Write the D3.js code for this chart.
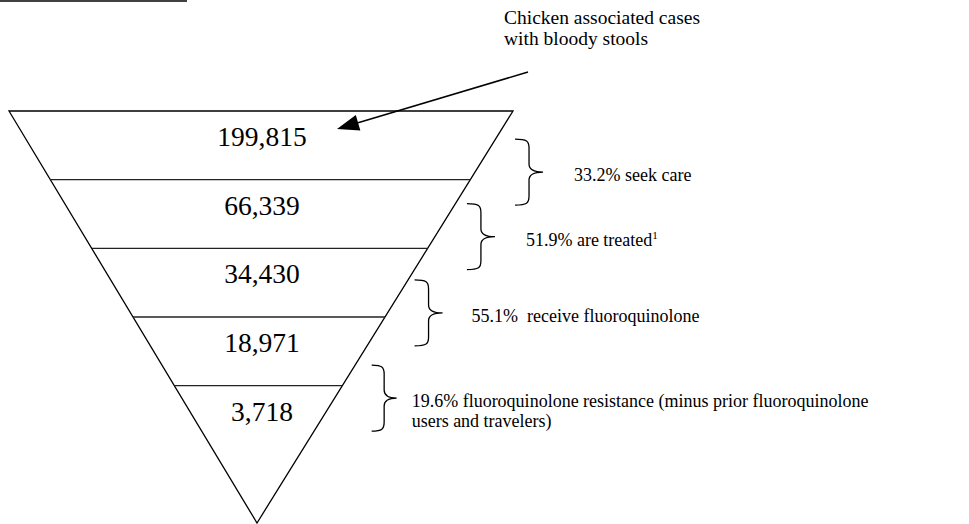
<!DOCTYPE html>
<html>
<head>
<meta charset="utf-8">
<script src="https://cdn.jsdelivr.net/npm/d3@7"></script>
<style>
  body { margin: 0; background: #fff; }
  svg { display: block; }
  text { font-family: 'Liberation Serif', 'Tinos', 'DejaVu Serif', serif; }
</style>
</head>
<body>
<svg id="chart"></svg>
<script>
// funnel values, top to bottom
const counts = [199815, 66339, 34430, 18971, 3718];
const stepRates = ["33.2%", "51.9%", "55.1%", "19.6%"];
const stepLabels = [
  ["seek care"],
  ["are treated"],
  [" receive fluoroquinolone"],
  ["fluoroquinolone resistance (minus prior fluoroquinolone", "users and travelers)"]
];
const stepNotes = ["", "1", "", ""];
const calloutLines = ["Chicken associated cases", "with bloody stools"];

// layout
const braceLevel = [0.89, 1.83, 2.94, 4.18];
const braceGap = [40, 32, 27, 37];
const labelGap = [31, 31, 29, 15];

document.addEventListener("DOMContentLoaded", function () {
  const width = 969, height = 524;
  const serif = "'Liberation Serif', 'DejaVu Serif', serif";
  const svg = d3.select("#chart").attr("width", width).attr("height", height)
    .attr("font-family", serif);

  const topY = 111, apexY = 523, apexX = 257;
  const level = d3.scaleLinear().domain([0, 6]).range([topY, apexY]);
  const leftEdge = d3.scaleLinear().domain([topY, apexY]).range([9, apexX]);
  const rightEdge = d3.scaleLinear().domain([topY, apexY]).range([513, apexX]);
  const fmt = d3.format(",");
  const cx = 262;

  // cut off underline of heading at the very top
  svg.append("line")
    .attr("x1", 0).attr("x2", 187).attr("y1", 1).attr("y2", 1)
    .attr("stroke", "#000").attr("stroke-width", 1.5);

  // triangle
  svg.append("path")
    .attr("d", d3.line()([[leftEdge(topY), topY], [rightEdge(topY), topY], [apexX, apexY]]) + "Z")
    .attr("fill", "none").attr("stroke", "#000").attr("stroke-width", 1.3);

  // band separators
  svg.selectAll(".sep")
    .data(d3.range(1, counts.length))
    .enter()
    .append("line")
    .attr("class", "sep")
    .attr("x1", (d) => leftEdge(level(d)))
    .attr("x2", (d) => rightEdge(level(d)))
    .attr("y1", (d) => level(d))
    .attr("y2", (d) => level(d))
    .attr("stroke", "#222").attr("stroke-width", 1.4);

  // counts
  svg.selectAll(".count")
    .data(counts)
    .enter()
    .append("text")
    .attr("class", "count")
    .attr("x", cx)
    .attr("y", (d, i) => level(i) + 35)
    .attr("text-anchor", "middle")
    .attr("font-size", 27.5)
    .text((d) => fmt(d));

  // braces
  function bracePath(x, y0, y1, w) {
    const m = (y0 + y1) / 2, h = w / 2;
    return `M${x},${y0} C${x + h - 2},${y0} ${x + h},${y0 + 2} ${x + h},${y0 + 9}` +
      ` L${x + h},${m - 8} C${x + h},${m - 2} ${x + h + 5},${m} ${x + w},${m}` +
      ` C${x + h + 5},${m} ${x + h},${m + 2} ${x + h},${m + 8}` +
      ` L${x + h},${y1 - 9} C${x + h},${y1 - 2} ${x + h - 2},${y1} ${x},${y1}`;
  }

  const steps = stepRates.map((r, i) => {
    const tipY = level(braceLevel[i]);
    const x = rightEdge(tipY) + braceGap[i];
    return { rate: r, lines: stepLabels[i], note: stepNotes[i], tipY, x, i };
  });

  svg.selectAll(".brace")
    .data(steps)
    .enter()
    .append("path")
    .attr("class", "brace")
    .attr("d", (d) => bracePath(d.x, d.tipY - 33, d.tipY + 33, d.i === 3 ? 25 : 28))
    .attr("fill", "none").attr("stroke", "#000").attr("stroke-width", 1.3);

  const labels = svg.selectAll(".step")
    .data(steps)
    .enter()
    .append("text")
    .attr("class", "step")
    .attr("font-size", 18)
    .style("white-space", "pre")
    .attr("x", (d) => d.x + (d.i === 3 ? 25 : 28) + labelGap[d.i])
    .attr("y", (d) => d.tipY + 9);

  labels.each(function (d) {
    const t = d3.select(this);
    const x0 = +t.attr("x");
    d.lines.forEach((line, j) => {
      t.append("tspan")
        .attr("x", x0)
        .attr("dy", j === 0 ? 0 : 20)
        .text(j === 0 ? d.rate + " " + line : line);
    });
    if (d.note) {
      t.append("tspan").attr("dy", -7).attr("font-size", 11).text(d.note);
    }
  });

  // callout
  svg.append("text")
    .attr("font-size", 19.5)
    .selectAll("tspan")
    .data(calloutLines)
    .enter()
    .append("tspan")
    .attr("x", 504)
    .attr("y", (d, i) => 24 + i * 21)
    .text((d) => d);

  // arrow to top band
  const from = [528, 72], to = [337, 129];
  const ang = Math.atan2(to[1] - from[1], to[0] - from[0]);
  const headLen = 22, headW = 8;
  const base = [to[0] - headLen * Math.cos(ang), to[1] - headLen * Math.sin(ang)];
  svg.append("line")
    .attr("x1", from[0]).attr("y1", from[1])
    .attr("x2", base[0]).attr("y2", base[1])
    .attr("stroke", "#000").attr("stroke-width", 1.5);
  svg.append("path")
    .attr("d", d3.line()([
      to,
      [base[0] + headW * Math.sin(ang), base[1] - headW * Math.cos(ang)],
      [base[0] - headW * Math.sin(ang), base[1] + headW * Math.cos(ang)]
    ]) + "Z")
    .attr("fill", "#000");
});
</script>
</body>
</html>
